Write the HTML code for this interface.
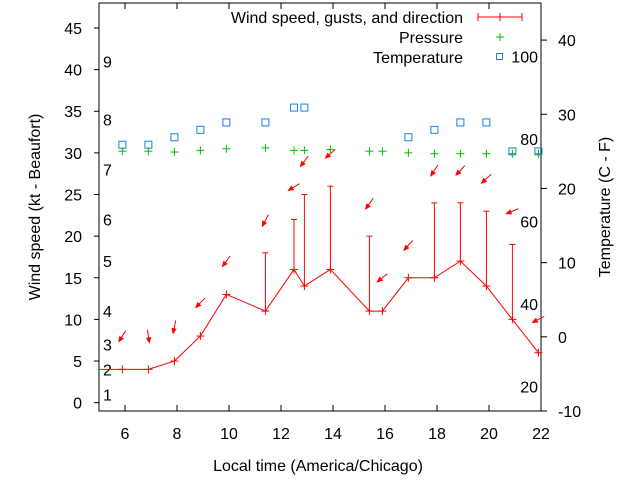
<!DOCTYPE html>
<html><head><meta charset="utf-8"><style>
html,body{margin:0;padding:0;background:#fff;}
svg{display:block;font-family:"Liberation Sans",sans-serif;}
</style></head><body>
<svg id="chart" width="640" height="480" viewBox="0 0 640 480" xmlns="http://www.w3.org/2000/svg">
<g id="plot"></g>
</svg>
<script>
const times = [5.9,6.9,7.9,8.9,9.9,11.4,12.5,12.9,13.9,15.4,15.9,16.9,17.9,18.9,19.9,20.9,21.9];
const speeds = [4,4,5,8,13,11,16,14,16,11,11,15,15,17,14,10,6];
const gusts = [null,null,null,null,null,18,22,25,26,20,null,null,24,24,23,19,null];
const pressure = [30.2,30.2,30.1,30.3,30.5,30.6,30.3,30.3,30.4,30.2,30.2,30.0,29.9,29.9,29.9,29.9,29.9];
const tempTimes = [5.9,6.9,7.9,8.9,9.9,11.4,12.5,12.9,16.9,17.9,18.9,19.9,20.9,21.9];
const temps = [25.9,25.9,26.9,27.9,28.9,28.9,30.9,30.9,26.9,27.9,28.9,28.9,25.0,25.0];
const arrowY = [8.0,8.0,9.1,12.0,17.0,21.9,25.9,29.0,29.9,23.9,15.0,18.9,27.9,27.9,26.9,23.0,10.0];
const arrowDir = [122,81,102,134,126,118,149,127,138,125,141,132,123,133,137,157,153];
const xTicks = [6,8,10,12,14,16,18,20,22];
const yTicks = [0,5,10,15,20,25,30,35,40,45];
const y2Ticks = [-10,0,10,20,30,40];
const beaufortKt = [1,4,7,11,17,22,28,34,41];
const beaufortLabels = ['1','2','3','4','5','6','7','8','9'];
const fahrenheit = [20,40,60,80,100];

const L=99,R=541,T=3,B=411;
const X = t => L + (t-5)*(R-L)/17;
const Y = v => B - (v+1)*(B-T)/49;
const Y2 = c => B - (c+10)*(B-T)/55;
const NS="http://www.w3.org/2000/svg";
const svg=document.getElementById('chart');
function mk(tag,attrs,parent){const e=document.createElementNS(NS,tag);for(const k in attrs)e.setAttribute(k,attrs[k]);(parent||svg).appendChild(e);return e;}
function txt(s,x,y,anchor,parent,size){const e=mk('text',{x:x,y:y,'text-anchor':anchor||'middle','font-size':size||16,fill:'#000'},parent);e.textContent=s;return e;}

const frame=mk('rect',{x:L,y:T,width:R-L,height:B-T,fill:'none',stroke:'#000','stroke-width':1});



xTicks.forEach(t=>{
  const g=mk('g',{});
  
  
  mk('line',{x1:X(t),x2:X(t),y1:B,y2:B-6,stroke:'#000'},g);
  mk('line',{x1:X(t),x2:X(t),y1:T,y2:T+6,stroke:'#000'},g);
  txt(String(t),X(t),439,'middle',g,16);
});
yTicks.forEach(v=>{
  const g=mk('g',{});
  
  
  mk('line',{x1:L-5,x2:L,y1:Y(v),y2:Y(v),stroke:'#000'},g);
  txt(String(v),82,Y(v)+6,'end',g,16);
});
y2Ticks.forEach(c=>{
  const g=mk('g',{});
  
  
  mk('line',{x1:R,x2:R+6,y1:Y2(c),y2:Y2(c),stroke:'#000'},g);
  txt(String(c),558,Y2(c)+6,'start',g,16);
});
beaufortKt.forEach((k,i)=>{
  const e=txt(beaufortLabels[i],103,Y(k)+6,'start',null,16);
  
  
});
fahrenheit.forEach(f=>{
  const e=txt(String(f),538,Y2((f-32)*5/9)+6,'end',null,16);
  
  
});

const xt=txt('Local time (America/Chicago)',318,471,'middle',null,16);


const yt=txt('Wind speed (kt - Beaufort)',0,0,'middle',null,16);
yt.setAttribute('transform','translate(40,207) rotate(-90)');


const y2t=txt('Temperature (C - F)',0,0,'middle',null,16);
y2t.setAttribute('transform','translate(610,207) rotate(-90)');



const red='#ff0000',green='#00c000',blue='#1a80e6';
gusts.forEach((gv,i)=>{
  if(gv===null)return;
  const g=mk('g',{stroke:red,'stroke-width':1});
  
  
  mk('line',{x1:X(times[i]),x2:X(times[i]),y1:Y(speeds[i]),y2:Y(gv)},g);
  mk('line',{x1:X(times[i])-3,x2:X(times[i])+3,y1:Y(gv),y2:Y(gv)},g);
});
const pl=mk('polyline',{points:times.map((t,i)=>X(t)+','+Y(speeds[i])).join(' '),fill:'none',stroke:red,'stroke-width':1});


const seg=mk('line',{x1:L,x2:X(times[0]),y1:Y(speeds[0]),y2:Y(speeds[0]),stroke:red});


times.forEach((t,i)=>{
  const g=mk('g',{stroke:red});
  
  
  mk('line',{x1:X(t)-4,x2:X(t)+4,y1:Y(speeds[i]),y2:Y(speeds[i])},g);
  mk('line',{x1:X(t),x2:X(t),y1:Y(speeds[i])-4,y2:Y(speeds[i])+4},g);
});
arrowY.forEach((v,i)=>{
  const a=arrowDir[i]*Math.PI/180, len=13;
  const cx=X(times[i]), cy=Y(v);
  const dx=Math.cos(a)*len/2, dy=Math.sin(a)*len/2;
  const tx=cx+dx, ty=cy+dy;
  const g=mk('g',{stroke:red,fill:red,'stroke-width':1});
  
  
  mk('line',{x1:cx-dx,y1:cy-dy,x2:tx,y2:ty},g);
  const h=5,w=0.4;
  const p1=[tx-Math.cos(a-w)*h,ty-Math.sin(a-w)*h], p2=[tx-Math.cos(a+w)*h,ty-Math.sin(a+w)*h];
  mk('polygon',{points:`${tx},${ty} ${p1} ${p2}`},g);
});
times.forEach((t,i)=>{
  const g=mk('g',{stroke:green});
  
  
  mk('line',{x1:X(t)-4,x2:X(t)+4,y1:Y(pressure[i]),y2:Y(pressure[i])},g);
  mk('line',{x1:X(t),x2:X(t),y1:Y(pressure[i])-4,y2:Y(pressure[i])+4},g);
});
tempTimes.forEach((t,i)=>{
  const r=mk('rect',{x:X(t)-3.5,y:Y2(temps[i])-3.5,width:7,height:7,fill:'none',stroke:blue,'stroke-width':1});
  
  
});

const lg=mk('g',{});


const l1=mk('g',{},lg);


txt('Wind speed, gusts, and direction',463,23,'end',l1,16);
mk('line',{x1:478,x2:522,y1:17,y2:17,stroke:red},l1);
mk('line',{x1:478,x2:478,y1:13,y2:21,stroke:red},l1);
mk('line',{x1:522,x2:522,y1:13,y2:21,stroke:red},l1);
mk('line',{x1:500,x2:500,y1:13,y2:21,stroke:red},l1);
const l2=mk('g',{},lg);


txt('Pressure',463,43,'end',l2,16);
mk('line',{x1:496,x2:504,y1:37,y2:37,stroke:green},l2);
mk('line',{x1:500,x2:500,y1:33,y2:41,stroke:green},l2);
const l3=mk('g',{},lg);


txt('Temperature',463,63,'end',l3,16);
mk('rect',{x:496.5,y:53.5,width:6,height:6,fill:'none',stroke:blue},l3);
</script>
</body></html>
